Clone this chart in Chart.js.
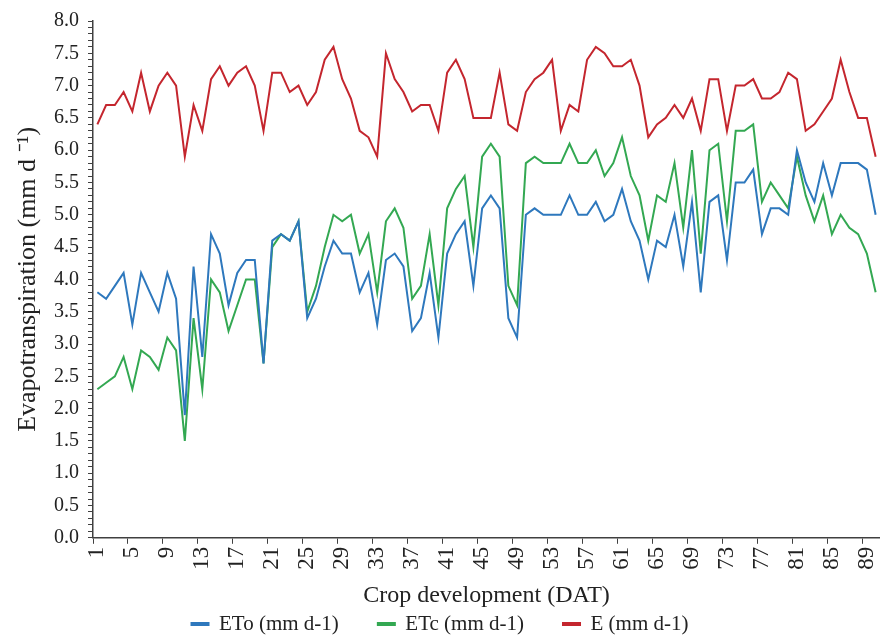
<!DOCTYPE html>
<html><head><meta charset="utf-8">
<script src="https://cdn.jsdelivr.net/npm/chart.js@4.4.1/dist/chart.umd.min.js"></script>
<style>html,body{margin:0;padding:0;background:#fff;}#wrap{width:880px;height:635px;position:relative;}</style>
</head><body><div id="wrap"><canvas id="c" width="880" height="635"></canvas></div>
<script>
const days = ['1','2','3','4','5','6','7','8','9','10','11','12','13','14','15','16','17','18','19','20',
'21','22','23','24','25','26','27','28','29','30','31','32','33','34','35','36','37','38','39','40',
'41','42','43','44','45','46','47','48','49','50','51','52','53','54','55','56','57','58','59','60',
'61','62','63','64','65','66','67','68','69','70','71','72','73','74','75','76','77','78','79','80',
'81','82','83','84','85','86','87','88','89','90'];
const eto = [3.8,3.7,3.9,4.1,3.3,4.1,3.8,3.5,4.1,3.7,
1.9,4.2,2.8,4.7,4.4,3.6,4.1,4.3,4.3,2.7,
4.6,4.7,4.6,4.9,3.4,3.7,4.2,4.6,4.4,4.4,
3.8,4.1,3.3,4.3,4.4,4.2,3.2,3.4,4.1,3.1,
4.4,4.7,4.9,3.9,5.1,5.3,5.1,3.4,3.1,5.0,
5.1,5.0,5.0,5.0,5.3,5.0,5.0,5.2,4.9,5.0,
5.4,4.9,4.6,4.0,4.6,4.5,5.0,4.2,5.2,3.8,
5.2,5.3,4.3,5.5,5.5,5.7,4.7,5.1,5.1,5.0,
6.0,5.5,5.2,5.8,5.3,5.8,5.8,5.8,5.7,5.0];
const etc = [2.3,2.4,2.5,2.8,2.3,2.9,2.8,2.6,3.1,2.9,
1.5,3.4,2.3,4.0,3.8,3.2,3.6,4.0,4.0,2.7,
4.5,4.7,4.6,4.9,3.5,3.9,4.5,5.0,4.9,5.0,
4.4,4.7,3.8,4.9,5.1,4.8,3.7,3.9,4.7,3.6,
5.1,5.4,5.6,4.5,5.9,6.1,5.9,3.9,3.6,5.8,
5.9,5.8,5.8,5.8,6.1,5.8,5.8,6.0,5.6,5.8,
6.2,5.6,5.3,4.6,5.3,5.2,5.8,4.8,6.0,4.4,
6.0,6.1,4.9,6.3,6.3,6.4,5.2,5.5,5.3,5.1,
5.9,5.3,4.9,5.3,4.7,5.0,4.8,4.7,4.4,3.8];
const evap = [6.4,6.7,6.7,6.9,6.6,7.2,6.6,7.0,7.2,7.0,
5.9,6.7,6.3,7.1,7.3,7.0,7.2,7.3,7.0,6.3,
7.2,7.2,6.9,7.0,6.7,6.9,7.4,7.6,7.1,6.8,
6.3,6.2,5.9,7.5,7.1,6.9,6.6,6.7,6.7,6.3,
7.2,7.4,7.1,6.5,6.5,6.5,7.2,6.4,6.3,6.9,
7.1,7.2,7.4,6.3,6.7,6.6,7.4,7.6,7.5,7.3,
7.3,7.4,7.0,6.2,6.4,6.5,6.7,6.5,6.8,6.3,
7.1,7.1,6.3,7.0,7.0,7.1,6.8,6.8,6.9,7.2,
7.1,6.3,6.4,6.6,6.8,7.4,6.9,6.5,6.5,5.9];
const xTickLabels = ['1','5','9','13','17','21','25','29','33','37','41','45','49','53','57','61','65','69','73','77','81','85','89'];
const yMajorTicks = [0,0.5,1,1.5,2,2.5,3,3.5,4,4.5,5,5.5,6,6.5,7,7.5,8];
const seriesNames = ['ETo (mm d-1)','ETc (mm d-1)','E (mm d-1)'];

const SERIF = "'Liberation Serif','Times New Roman',serif";
const BLUE = '#2E78BD', GREEN = '#33A852', RED = '#C4262E';
const AXIS = '#404040';

new Chart(document.getElementById('c').getContext('2d'), {
  type: 'line',
  data: {
    labels: days,
    datasets: [
      {label: seriesNames[0], data: eto, borderColor: BLUE, backgroundColor: BLUE, borderWidth: 2, pointRadius: 0, tension: 0},
      {label: seriesNames[1], data: etc, borderColor: GREEN, backgroundColor: GREEN, borderWidth: 2, pointRadius: 0, tension: 0},
      {label: seriesNames[2], data: evap, borderColor: RED, backgroundColor: RED, borderWidth: 2, pointRadius: 0, tension: 0}
    ]
  },
  options: {
    responsive: false,
    animation: false,
    layout: {padding: {top: 17, right: 0, left: 0, bottom: -9.6}},
    plugins: {
      legend: {position: 'bottom', labels: {font: {family: SERIF, size: 21}, color: '#222', boxWidth: 17, boxHeight: 2, padding: 39}},
      tooltip: {enabled: false}
    },
    scales: {
      x: {
        type: 'category', offset: true,
        grid: {offset: true, drawOnChartArea: false, tickLength: 6, lineWidth: 1,
               color: (c) => (c.index % 4 === 0 && c.index < 90) ? AXIS : 'rgba(0,0,0,0)'},
        border: {display: true, color: AXIS, width: 1.5},
        ticks: {autoSkip: false, minRotation: 90, maxRotation: 90, padding: 3,
                font: {family: SERIF, size: 23}, color: '#222',
                callback: function (v) { const l = this.getLabelForValue(v); return xTickLabels.includes(l) ? l : ''; }},
        title: {display: true, text: 'Crop development (DAT)', font: {family: SERIF, size: 24}, color: '#222', padding: {top: 0, bottom: -36}},
        afterFit: (s) => { s.height = 36.8; s.paddingLeft = 0; s.paddingRight = 0; }
      },
      y: {
        min: 0, max: 8,
        grid: {drawOnChartArea: false, tickLength: 5, lineWidth: 1, color: AXIS},
        border: {display: true, color: AXIS, width: 1.5},
        ticks: {stepSize: 0.1, autoSkip: false, maxTicksLimit: 200, padding: 9,
                font: {family: SERIF, size: 20}, color: '#222',
                callback: (v) => {
                  const m = yMajorTicks.find(t => Math.abs(t - v) < 1e-6);
                  return m === undefined ? '' : m.toFixed(1);
                }},
        title: {display: true, text: 'Evapotranspiration (mm d \u207B\u00B9)', font: {family: SERIF, size: 26}, color: '#222', padding: {top: 12.4, bottom: 0}},
        afterFit: (s) => { s.width = 93; }
      }
    }
  }
});
</script></body></html>
